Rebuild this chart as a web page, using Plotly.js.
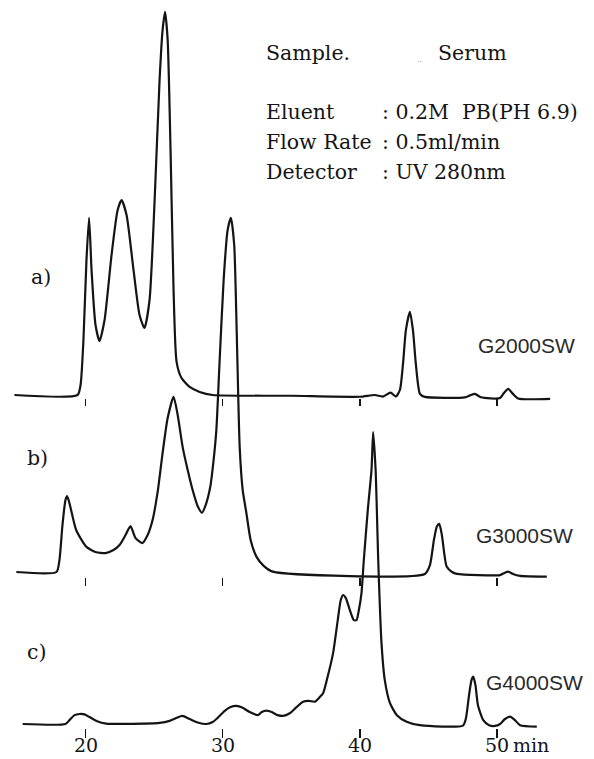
<!DOCTYPE html>
<html>
<head>
<meta charset="utf-8">
<script src="https://cdn.plot.ly/plotly-3.0.1.min.js"></script>
<style>
  html, body { margin: 0; padding: 0; background: #fff; }
  #chart { width: 594px; height: 759px; }
</style>
</head>
<body>
<div id="chart"></div>
<script>
// Serum on three TSK-GEL SW columns: elution time (min) vs UV 280 nm response (relative units)

// a) G2000SW
const timeA = [14.82, 19.42, 19.64, 19.85, 20.07, 20.26, 20.44, 20.73, 21.02, 21.39, 21.9, 22.34, 22.63, 22.99,
  23.5, 23.94, 24.3, 24.67, 25.04, 25.4, 25.62, 25.8, 25.99, 26.2, 26.42, 26.64, 27.0, 27.59, 28.32, 29.27,
  35.0, 40.0, 41.09, 41.68, 42.24, 42.63, 42.92, 43.14, 43.36, 43.65, 43.87, 44.09, 44.38, 44.74,
  47.66, 48.03, 48.39, 48.83, 50.22, 50.5, 50.82, 51.16, 51.53, 53.87];
const signalA = [0, 0, 2.6, 14.3, 35, 46, 32.5, 18.2, 14, 19.5, 36.4, 48, 50.6, 46.8,
  32.5, 20.8, 17.4, 24.7, 50.6, 81.8, 94.8, 99.5, 92.2, 63.6, 27.3, 8.6, 4.4, 2.1, 0.8, 0,
  -0.2, -0.45, 0, -0.4, 0.6, -0.4, 1.3, 7.8, 16.9, 21.6, 16.9, 7.8, 0.3, -0.5,
  -0.6, -0.1, 0.3, -0.6, -0.8, 0.5, 1.6, 0.3, -0.9, -1.0];

// b) G3000SW
const timeB = [14.96, 17.88, 18.1, 18.32, 18.54, 18.66, 18.83, 19.32, 20.05, 20.73, 21.46, 22.04, 22.48, 22.92,
  23.28, 23.65, 24.14, 24.53, 24.89, 25.26, 25.62, 25.99, 26.42, 26.72, 27.08, 27.45, 27.81, 28.18, 28.49,
  28.76, 29.1, 29.34, 29.54, 29.78, 30.07, 30.36, 30.6, 30.84, 31.02, 31.24, 31.46, 31.73, 32.04, 32.46,
  32.99, 33.65, 44.74, 45.11, 45.4, 45.62, 45.79, 45.98, 46.33, 46.72, 47.08, 50.22, 50.5, 50.82, 51.16,
  51.68, 53.63];
const signalB = [0, 0, 3.1, 12.2, 18.7, 19.7, 17.9, 10.9, 6.6, 5.2, 4.9, 5.7, 7.0, 9.6,
  11.9, 8.8, 7.5, 9.6, 13.5, 20.8, 30.9, 40, 45.5, 40.8, 32.5, 26.5, 21.3, 17.1, 15.4,
  17.4, 22.2, 29.1, 36.9, 55, 75.8, 88.8, 92, 85, 62.9, 32.5, 21.3, 15.3, 8.3, 4.0,
  1.6, 0.1, -0.5, 1.8, 8.3, 11.9, 12.5, 9.6, 1.4, 0, -0.5, -0.8, -0.3, 0.1, -0.5,
  -1.0, -1.2];

// c) G4000SW
const timeC = [15.42, 18.54, 18.83, 19.2, 19.56, 19.93, 20.29, 20.8, 21.51, 25.4, 26.13, 26.64, 27.06, 27.59,
  28.18, 28.81, 29.27, 29.64, 30.15, 30.58, 31.0, 31.46, 31.97, 32.58, 32.85, 33.19, 33.58, 34.01, 34.4,
  34.89, 35.33, 35.86, 36.28, 36.72, 37.08, 37.32, 37.59, 38.05, 38.39, 38.61, 38.78, 38.98, 39.27, 39.56,
  39.76, 39.93, 40.12, 40.29, 40.58, 40.85, 40.97, 41.15, 41.24, 41.34, 41.58, 41.82, 42.19, 42.7, 43.41,
  44.38, 47.52, 47.74, 47.96, 48.14, 48.27, 48.43, 48.61, 49.0, 49.42, 49.85, 50.22, 50.58, 50.95, 51.31,
  51.68, 52.9];
const signalC = [0, 0, 1.0, 2.3, 2.6, 2.5, 1.8, 0.8, 0.1, 0.3, 0.8, 1.6, 2.1, 1.3,
  0.4, 0, 0.5, 1.6, 3.4, 4.4, 4.7, 4.2, 3.1, 2.3, 3.1, 3.5, 3.1, 2.3, 2.1,
  2.8, 4.2, 5.8, 6.0, 5.8, 7.0, 8.0, 11.4, 18.4, 27, 32.2, 33.5, 32.7, 29.6, 27,
  27, 29.6, 34, 42.6, 55.6, 66, 75.8, 66, 55.6, 42.6, 21, 11.4, 5.5, 2.3, 0.6,
  -0.3, -0.4, 1.6, 7.5, 11.4, 12.3, 10.1, 4.9, 1.0, -0.3, -0.5, 0, 1.3, 1.9, 1.0,
  -0.3, -0.7];

const tickValues = [20, 30, 40, 50];
const tickLabels = ['20', '30', '40', '50'];
const columnNames = ['G2000SW', 'G3000SW', 'G4000SW'];
const panelLetters = ['a)', 'b)', 'c)'];
const conditionLabels = ['Eluent', 'Flow Rate', 'Detector'];
const conditionValues = [': 0.2M\u00a0 PB(PH 6.9)', ': 0.5ml/min', ': UV 280nm'];

// ---- layout geometry (pixels) ----
const W = 594, H = 759;
const pxPerMin = 13.717, px20 = 85.5;        // horizontal scale of the time axis
const pxPerUnit = 3.85;                      // vertical scale of the detector response
const baselines = { a: 395, b: 572, c: 724 }; // where each trace sits on the page
const tickRows = { a: 398, b: 577, c: 728 };

const xRange = [20 - px20 / pxPerMin, 20 + (W - px20) / pxPerMin];
const yRange = b => [-(H - b) / pxPerUnit, b / pxPerUnit];
const fy = py => 1 - py / H;
const fx = px => px / W;

const ink = '#141414';
const serif = 'DejaVu Serif, Liberation Serif, serif';
const sans = 'Liberation Sans, Arial, sans-serif';

const lineStyle = { color: ink, width: 2.2, shape: 'spline', smoothing: 0.6 };
const traces = [
  { x: timeC, y: signalC, xaxis: 'x', yaxis: 'y', mode: 'lines', line: lineStyle, name: columnNames[2] },
  { x: timeB, y: signalB, xaxis: 'x2', yaxis: 'y2', mode: 'lines', line: lineStyle, name: columnNames[1] },
  { x: timeA, y: signalA, xaxis: 'x3', yaxis: 'y3', mode: 'lines', line: lineStyle, name: columnNames[0] }
];

function timeAxis(row, len, extra) {
  return Object.assign({
    range: xRange, domain: [0, 1], anchor: 'free', position: fy(row),
    showgrid: false, zeroline: false, showline: false,
    ticks: 'outside', ticklen: len, tickwidth: 1.6, tickcolor: ink,
    tickvals: tickValues, showticklabels: false, fixedrange: true
  }, extra || {});
}
function responseAxis(b, extra) {
  return Object.assign({ range: yRange(b), domain: [0, 1], visible: false, fixedrange: true }, extra || {});
}

const ann = [];
const txt = (text, px, py, font, anchor) => ann.push({
  text, xref: 'paper', yref: 'paper', x: fx(px), y: fy(py),
  xanchor: anchor || 'left', yanchor: 'middle', showarrow: false, borderpad: 0, font
});
const serifFont = { family: serif, size: 20.5, color: ink };
const axisFont = { family: serif, size: 19, color: ink };
const sansFont = { family: sans, size: 21, color: '#2a2a2a' };

txt('Sample.', 265, 53, serifFont);
txt('..', 416, 60, { family: serif, size: 8, color: '#777' });
txt('Serum', 437, 53, serifFont);
const condRows = [112, 142, 172];
conditionLabels.forEach((s, i) => txt(s, 265, condRows[i], serifFont));
conditionValues.forEach((s, i) => txt(s, 381, condRows[i], serifFont));

txt(panelLetters[0], 30, 277, serifFont);
txt(panelLetters[1], 26, 458, serifFont);
txt(panelLetters[2], 26, 652, serifFont);

txt(columnNames[0], 477, 345, sansFont);
txt(columnNames[1], 475, 535, sansFont);
txt(columnNames[2], 485, 682, sansFont);

// minute labels under the bottom row of ticks
const labelRow = 745;
tickValues.forEach((v, i) => ann.push({
  text: tickLabels[i], xref: 'x', yref: 'paper', x: v, y: fy(labelRow),
  xanchor: 'center', yanchor: 'middle', showarrow: false, borderpad: 0, font: axisFont
}));
txt('min', 512, labelRow, axisFont);

const layout = {
  width: W, height: H,
  margin: { l: 0, r: 0, t: 0, b: 0, pad: 0 },
  paper_bgcolor: '#fff', plot_bgcolor: '#fff',
  showlegend: false,
  xaxis: timeAxis(tickRows.c, 9),
  xaxis2: timeAxis(tickRows.b, 8, { overlaying: 'x' }),
  xaxis3: timeAxis(tickRows.a, 7, { overlaying: 'x' }),
  yaxis: responseAxis(baselines.c),
  yaxis2: responseAxis(baselines.b, { overlaying: 'y' }),
  yaxis3: responseAxis(baselines.a, { overlaying: 'y' }),
  annotations: ann
};

Plotly.newPlot('chart', traces, layout, { staticPlot: true, displayModeBar: false });
</script>
</body>
</html>
